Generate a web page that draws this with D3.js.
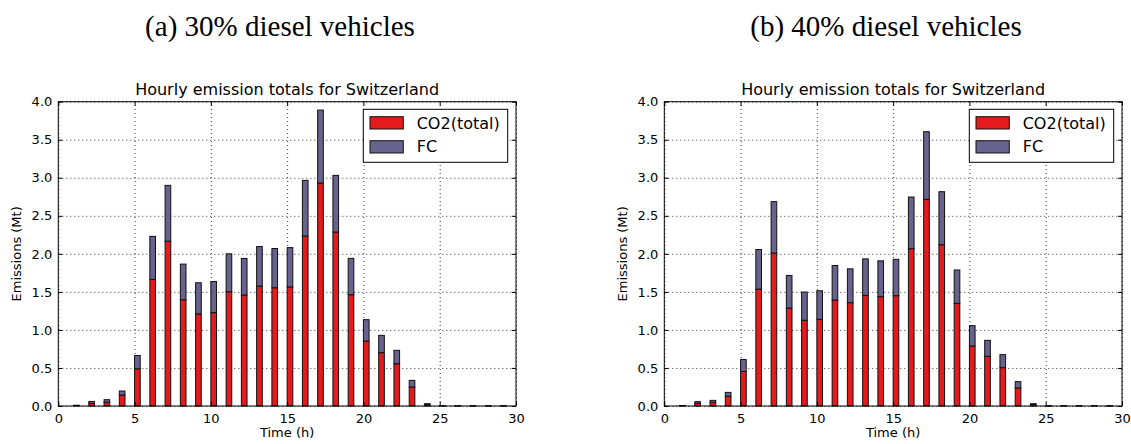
<!DOCTYPE html>
<html>
<head>
<meta charset="utf-8">
<script src="https://cdn.jsdelivr.net/npm/d3@7"></script>
<style>
  body { margin: 0; background: #fff; }
  svg { display: block; }
  .tick text { font-family: "DejaVu Sans", sans-serif; font-size: 13px; fill: #000; }
  .grid line { stroke: #000; stroke-width: 0.8; stroke-dasharray: 1,3; }
  .grid .domain { display: none; }
</style>
</head>
<body>
<div id="chart"></div>
<script>
// hours of the day (bars start at each hour)
const hours = d3.range(1, 30);

// (a) 30% diesel: CO2 part and FC part stacked on top
const co2A = [0.007, 0.035, 0.05, 0.144, 0.489, 1.664, 2.166, 1.397, 1.21, 1.227,
  1.502, 1.459, 1.576, 1.555, 1.565, 2.234, 2.931, 2.287, 1.463, 0.854,
  0.701, 0.556, 0.25, 0.02, 0.002, 0.002, 0.002, 0.002, 0.002];
const fcA = [0.003, 0.025, 0.033, 0.053, 0.175, 0.566, 0.734, 0.468, 0.41, 0.41,
  0.498, 0.48, 0.52, 0.515, 0.517, 0.732, 0.959, 0.745, 0.478, 0.281,
  0.228, 0.176, 0.087, 0.01, 0.001, 0.001, 0.001, 0.001, 0.001];

// (b) 40% diesel
const co2B = [0.005, 0.035, 0.048, 0.127, 0.454, 1.537, 2.009, 1.288, 1.127, 1.14,
  1.393, 1.358, 1.454, 1.437, 1.45, 2.068, 2.716, 2.12, 1.349, 0.789,
  0.653, 0.504, 0.237, 0.02, 0.002, 0.002, 0.002, 0.002, 0.002];
const fcB = [0.002, 0.022, 0.026, 0.052, 0.157, 0.52, 0.677, 0.428, 0.371, 0.375,
  0.454, 0.445, 0.48, 0.471, 0.478, 0.679, 0.89, 0.697, 0.439, 0.267,
  0.21, 0.171, 0.083, 0.01, 0.001, 0.001, 0.001, 0.001, 0.001];

const xTicks = [0, 5, 10, 15, 20, 25, 30];
const yTicks = [0, 0.5, 1, 1.5, 2, 2.5, 3, 3.5, 4];
const seriesNames = ["CO2(total)", "FC"];
const captions = ["(a) 30% diesel vehicles", "(b) 40% diesel vehicles"];
const chartTitle = "Hourly emission totals for Switzerland";

const W = 1131, H = 444;
const colors = ["#e41a1c", "#67628e"];
const barWidth = 0.37;

const svg = d3.select("#chart").append("svg")
  .attr("width", W).attr("height", H);

function drawPanel(left, co2, fc, caption, capX) {
  const right = left + 457.7;
  const top = 101.7, bottom = 406;
  const width = right - left, height = bottom - top;

  svg.append("text")
    .attr("x", capX).attr("y", 36)
    .attr("text-anchor", "middle")
    .style("font-family", "'Liberation Serif', serif")
    .style("font-size", "29px")
    .text(caption);

  const g = svg.append("g").attr("transform", "translate(" + left + "," + top + ")");

  const x = d3.scaleLinear().domain([0, 30]).range([0, width]);
  const y = d3.scaleLinear().domain([0, 4]).range([height, 0]);

  // grid
  g.append("g").attr("class", "grid")
    .attr("transform", "translate(0," + height + ")")
    .call(d3.axisBottom(x).tickValues(xTicks).tickSize(-height).tickFormat(""));
  g.append("g").attr("class", "grid")
    .call(d3.axisLeft(y).tickValues(yTicks).tickSize(-width).tickFormat(""));

  // stacked bars
  const data = hours.map((h, i) => ({ h: h, c: co2[i], f: fc[i] }));
  g.selectAll(".co2").data(data).enter().append("rect")
    .attr("x", d => x(d.h))
    .attr("y", d => y(d.c))
    .attr("width", x(barWidth) - x(0))
    .attr("height", d => y(0) - y(d.c))
    .attr("fill", colors[0]).attr("stroke", "#111").attr("stroke-width", 1);
  g.selectAll(".fc").data(data).enter().append("rect")
    .attr("x", d => x(d.h))
    .attr("y", d => y(d.c + d.f))
    .attr("width", x(barWidth) - x(0))
    .attr("height", d => y(d.c) - y(d.c + d.f))
    .attr("fill", colors[1]).attr("stroke", "#111").attr("stroke-width", 1);

  // axes, ticks pointing inwards on all four sides
  const ax = (a) => a.call(s => s.select(".domain").remove());
  g.append("g").attr("transform", "translate(0," + height + ")")
    .call(d3.axisBottom(x).tickValues(xTicks).tickSize(-4).tickPadding(8).tickFormat(d3.format("d")))
    .call(ax);
  g.append("g")
    .call(d3.axisTop(x).tickValues(xTicks).tickSize(-4).tickFormat(""))
    .call(ax);
  g.append("g")
    .call(d3.axisLeft(y).tickValues(yTicks).tickSize(-4).tickPadding(6).tickFormat(d3.format(".1f")))
    .call(ax);
  g.append("g").attr("transform", "translate(" + width + ",0)")
    .call(d3.axisRight(y).tickValues(yTicks).tickSize(-4).tickFormat(""))
    .call(ax);

  g.append("rect")
    .attr("width", width).attr("height", height)
    .attr("fill", "none").attr("stroke", "#000").attr("stroke-width", 1);

  g.append("text")
    .attr("x", width / 2).attr("y", -6.7)
    .attr("text-anchor", "middle")
    .style("font-family", "'DejaVu Sans', sans-serif").style("font-size", "16px")
    .text(chartTitle);

  g.append("text")
    .attr("x", width / 2).attr("y", height + 31)
    .attr("text-anchor", "middle")
    .style("font-family", "'DejaVu Sans', sans-serif").style("font-size", "13px")
    .text("Time (h)");

  g.append("text")
    .attr("transform", "translate(-37," + (height / 2) + ") rotate(-90)")
    .attr("text-anchor", "middle")
    .style("font-family", "'DejaVu Sans', sans-serif").style("font-size", "13px")
    .text("Emissions (Mt)");

  // legend
  const lg = g.append("g").attr("transform", "translate(" + (width - 152.7) + ",7.6)");
  lg.append("rect").attr("width", 144.4).attr("height", 53)
    .attr("fill", "#fff").attr("stroke", "#000").attr("stroke-width", 1);
  seriesNames.forEach((name, i) => {
    lg.append("rect")
      .attr("x", 6.7).attr("y", 7.4 + i * 24)
      .attr("width", 33.3).attr("height", 12.3)
      .attr("fill", colors[i]).attr("stroke", "#111").attr("stroke-width", 1);
    lg.append("text")
      .attr("x", 53.4).attr("y", 13.6 + i * 23.7)
      .attr("dy", "0.36em")
      .style("font-family", "'DejaVu Sans', sans-serif").style("font-size", "16px")
      .text(name);
  });
}

drawPanel(58.3, co2A, fcA, captions[0], 280);
drawPanel(664.3, co2B, fcB, captions[1], 886);
</script>
</body>
</html>
